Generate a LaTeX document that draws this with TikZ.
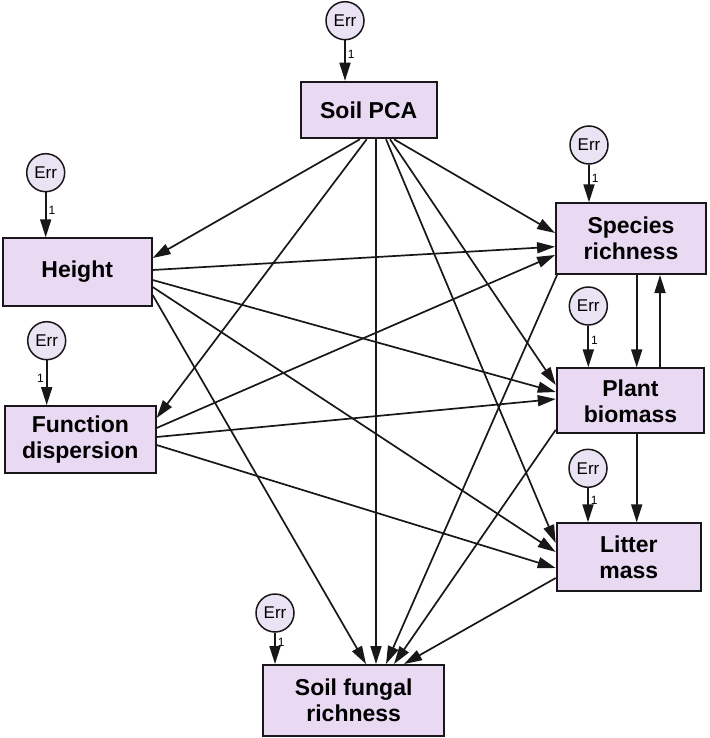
\documentclass[tikz,border=0pt]{standalone}
\usepackage{fontspec}
\setmainfont{Liberation Sans}
\usetikzlibrary{arrows.meta,calc}
\definecolor{boxfill}{RGB}{234,217,243}
\definecolor{errfill}{RGB}{234,227,243}
\definecolor{edge}{RGB}{25,23,25}
\begin{document}
\begin{tikzpicture}[x=1pt,y=-1pt,
  box/.style={draw=edge, line width=1.9pt, fill=boxfill, inner sep=0pt, align=center,
    font=\bfseries\fontsize{23}{26}\selectfont},
  errc/.style={circle, draw=edge, line width=1.5pt, fill=errfill, minimum size=38pt,
    inner sep=0pt, font=\fontsize{17}{19}\selectfont},
  arr/.style={draw=edge, line width=1.7pt, -{Triangle[length=18pt,width=11pt]}},
  one/.style={font=\fontsize{12}{13}\selectfont, inner sep=2pt}
]
\useasboundingbox (0,0) rectangle (709,738);

% boxes
\node[box, minimum width=136pt, minimum height=56.6pt] (pca) at (368.7,110) {Soil PCA};
\node[box, minimum width=149pt, minimum height=67.4pt] (height) at (77.2,272) {Height};
\node[box, minimum width=150.7pt, minimum height=67.3pt] (fd) at (80.3,439.7) {Function\\dispersion};
\node[box, minimum width=150pt, minimum height=70.7pt] (sp) at (631,238.7) {Species\\richness};
\node[box, minimum width=147.6pt, minimum height=65pt] (pb) at (630.5,400.8) {Plant\\biomass};
\node[box, minimum width=144.3pt, minimum height=67.4pt] (lm) at (628.8,557) {Litter\\mass};
\node[box, minimum width=180.7pt, minimum height=71pt] (sf) at (353.7,700.5) {Soil fungal\\richness};

% error terms
\node[errc] (e1) at (345,20.7) {Err};
\node[errc] (eh) at (45.7,172.7) {Err};
\node[errc] (ef) at (46.7,340.7) {Err};
\node[errc] (es) at (589,145) {Err};
\node[errc] (ep) at (588.3,306) {Err};
\node[errc] (el) at (588,468.3) {Err};
\node[errc] (esf) at (275,613) {Err};

\draw[arr] (e1) -- (e1 |- pca.north) node[one, pos=0.35, right] {1};
\draw[arr] (eh) -- (eh |- height.north) node[one, pos=0.4, right] {1};
\draw[arr] (ef) -- (ef |- fd.north) node[one, pos=0.4, left] {1};
\draw[arr] (es) -- (es |- sp.north) node[one, pos=0.35, right] {1};
\draw[arr] (ep) -- (ep |- pb.north) node[one, pos=0.35, right] {1};
\draw[arr] (el) -- (el |- lm.north) node[one, pos=0.35, right] {1};
\draw[arr] (esf) -- (esf |- sf.north) node[one, pos=0.3, right] {1};

% Soil PCA paths
\draw[arr] ([xshift=-8.7pt]pca.south) -- ([yshift=14pt]height.east);
\draw[arr] ([xshift=-2pt]pca.south) -- ([yshift=21.7pt]fd.east);
\draw[arr] ([xshift=7.3pt]pca.south) -- ([xshift=22.3pt]sf.north);
\draw[arr] ([xshift=17.3pt]pca.south) -- ([yshift=14pt]lm.west);
\draw[arr] ([xshift=21.3pt]pca.south) -- ([yshift=15.8pt]pb.west);
\draw[arr] ([xshift=25.3pt]pca.south) -- ([yshift=5.7pt]sp.west);

% Height paths
\draw[arr] ([yshift=2pt]height.east) -- ([yshift=-8pt]sp.west);
\draw[arr] ([yshift=-8pt]height.east) -- ([yshift=8.8pt]pb.west);
\draw[arr] ([yshift=-15pt]height.east) -- ([yshift=5pt]lm.west);
\draw[arr] ([yshift=-23pt]height.east) -- ([xshift=12.3pt]sf.north);

% Function dispersion paths
\draw[arr] ([yshift=11.7pt]fd.east) -- ([yshift=-16.3pt]sp.west);
\draw[arr] ([yshift=2.7pt]fd.east) -- ([yshift=1.8pt]pb.west);
\draw[arr] ([yshift=-5.3pt]fd.east) -- ([yshift=-11pt]lm.west);

% right column
\draw[arr] ([xshift=5.7pt]sp.south) -- ([xshift=6.2pt]pb.north);
\draw[arr] ([xshift=29.5pt]pb.north) -- ([xshift=29pt]sp.south);
\draw[arr] ([xshift=6.2pt]pb.south) -- ([xshift=7.9pt]lm.north);

% to soil fungal richness
\draw[arr] ([xshift=2pt]sp.south west) -- ([xshift=32.3pt]sf.north);
\draw[arr] ([yshift=-29pt]pb.west) -- ([xshift=40.3pt]sf.north);
\draw[arr] ([yshift=-21pt]lm.west) -- ([xshift=50.3pt]sf.north);
\end{tikzpicture}
\end{document}
